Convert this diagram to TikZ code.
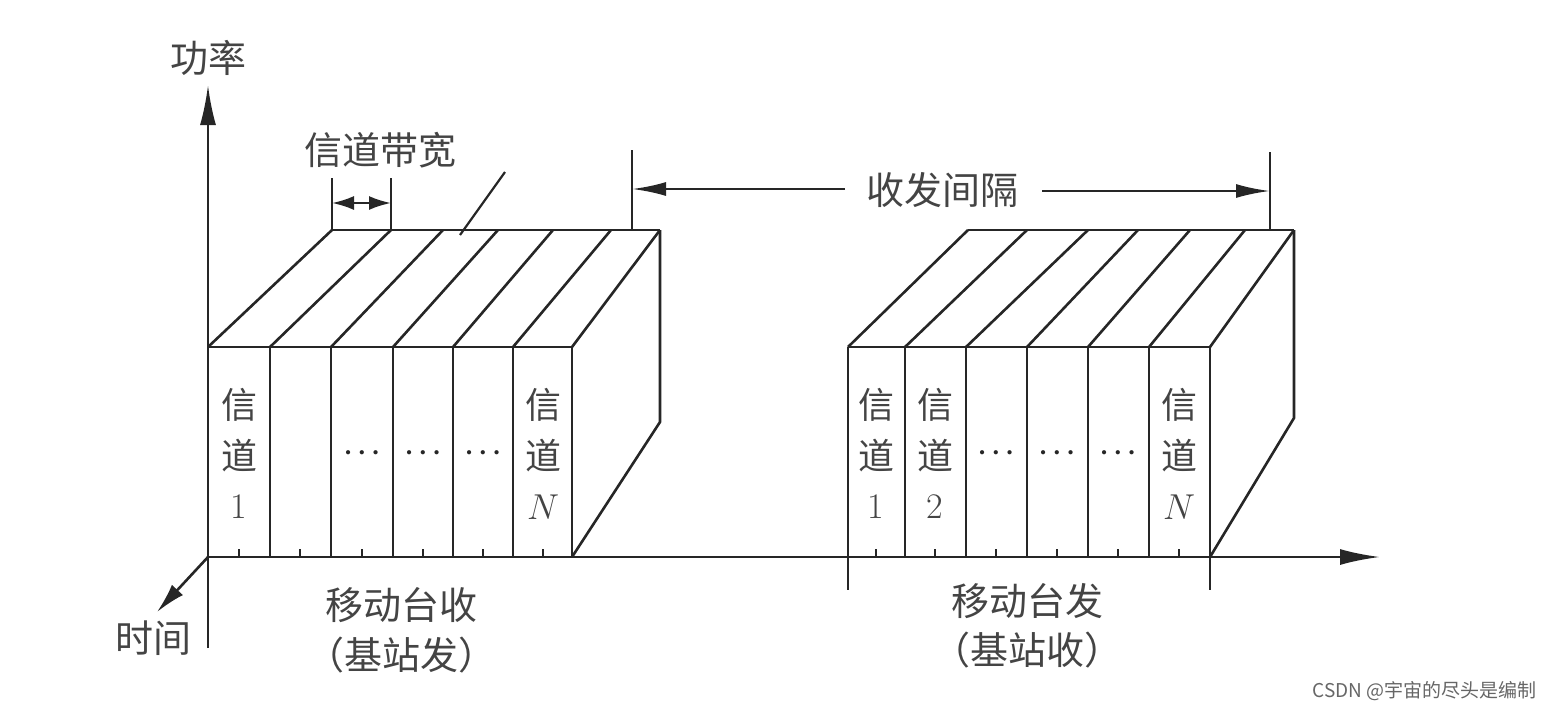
\documentclass[tikz,border=0pt]{standalone}
\usepackage{fix-cm}
\usepackage{fontspec}
\newfontfamily\cjk{Noto Sans CJK SC}
\usetikzlibrary{arrows.meta}
\definecolor{ln}{HTML}{262626}
\definecolor{tx}{HTML}{444444}
\tikzset{
  edge/.style={draw=ln, line width=2.6pt, line cap=butt, line join=miter},
  thin edge/.style={draw=ln, line width=2.2pt},
  axisarrow/.style={edge, -{Latex[length=40pt,width=16pt]}},
  gaparrow/.style={edge, -{Latex[length=34pt,width=14pt]}},
  bwarrow/.style={thin edge, {Latex[length=22pt,width=14pt]}-{Latex[length=22pt,width=14pt]}},
  label/.style={text=tx, font=\cjk\fontsize{38}{40}\selectfont, inner sep=0pt},
  chlabel/.style={text=tx, font=\cjk\fontsize{36}{38}\selectfont, inner sep=0pt},
  numlabel/.style={text=tx, font=\fontsize{36}{38}\selectfont, inner sep=0pt},
  dotlabel/.style={text=ln, font=\fontsize{27}{29}\selectfont\boldmath, inner sep=0pt},
  wm/.style={text=black!60, font=\cjk\fontsize{19}{21}\selectfont, inner sep=0pt, anchor=east},
}
\begin{document}
\begin{tikzpicture}[x=1pt,y=-1pt]
\useasboundingbox (0,0) rectangle (1552,710);
% ---------- axes ----------
\coordinate (O) at (208,557);
\coordinate (ybot) at (208,648);
\coordinate (ytop) at (208,85);
\coordinate (xend) at (1380,557);
\coordinate (tend) at (157,612);
\draw[edge] (ybot) -- (O);
\draw[axisarrow] (O) -- (ytop);
\draw[axisarrow] (O) -- (xend);
\draw[edge, -{Latex[length=30pt,width=15pt]}] (O) -- (tend);
\node[label] (pw) at (208,58) {功率};
\node[label] (tm) at (153,638) {时间};

% ---------- left block ----------
\foreach \i/\f/\b in {0/208/332,1/270/391,2/331/443,3/393/498,4/453/553,5/513/611,6/572/660}{
  \coordinate (Lf\i) at (\f,347);
  \coordinate (Lb\i) at (\f,557);
  \coordinate (Lk\i) at (\b,230);
}
\coordinate (Lrb) at (660,422);
\draw[edge] (Lf0) -- (Lf6);
\draw[edge] (Lk0) -- (Lk6);
\foreach \i in {0,...,6}{
  \draw[edge] (Lf\i) -- (Lb\i);
  \draw[edge] (Lf\i) -- (Lk\i);
}
\draw[edge] (Lk6) -- (Lrb) -- (Lb6);
\foreach \x in {239,300,362,423,483,543}{
  \coordinate (ltk\x) at (\x,549);
  \coordinate (ltb\x) at (\x,557);
  \draw[thin edge, line width=1.6pt] (ltk\x) -- (ltb\x);
}
% left channel labels
\node[chlabel] (l1a) at (239,405) {信};
\node[chlabel] (l1b) at (239,456) {道};
\node[numlabel] (l1c) at (239,507) {1};
\node[chlabel] (lNa) at (543,405) {信};
\node[chlabel] (lNb) at (543,456) {道};
\node[numlabel] (lNc) at (543,507) {$N$};
\node[dotlabel] (ld3) at (362,453) {$\cdots$};
\node[dotlabel] (ld4) at (423,453) {$\cdots$};
\node[dotlabel] (ld5) at (483,453) {$\cdots$};

% bandwidth marker
\coordinate (bw1t) at (332,178);
\coordinate (bw2t) at (391,178);
\coordinate (bw1a) at (332,203);
\coordinate (bw2a) at (391,203);
\draw[thin edge] (bw1t) -- (Lk0);
\draw[thin edge] (bw2t) -- (Lk1);
\draw[bwarrow] (bw1a) -- (bw2a);
\node[label] (bwlab) at (380,150) {信道带宽};
\coordinate (lead1) at (460,235);
\coordinate (lead2) at (505,172);
\draw[thin edge] (lead1) -- (lead2);

% ---------- right block ----------
\foreach \i/\f/\b in {0/848/968,1/905/1027,2/966/1088,3/1027/1138,4/1088/1190,5/1149/1245,6/1210/1294}{
  \coordinate (Rf\i) at (\f,347);
  \coordinate (Rb\i) at (\f,557);
  \coordinate (Rk\i) at (\b,230);
}
\coordinate (Rrb) at (1294,418);
\draw[edge] (Rf0) -- (Rf6);
\draw[edge] (Rk0) -- (Rk6);
\foreach \i in {0,...,6}{
  \draw[edge] (Rf\i) -- (Rb\i);
  \draw[edge] (Rf\i) -- (Rk\i);
}
\draw[edge] (Rk6) -- (Rrb) -- (Rb6);
\foreach \x in {876,935,996,1057,1118,1179}{
  \coordinate (rtk\x) at (\x,549);
  \coordinate (rtb\x) at (\x,557);
  \draw[thin edge, line width=1.6pt] (rtk\x) -- (rtb\x);
}
\coordinate (Rd0) at (848,590);
\coordinate (Rd6) at (1210,590);
\draw[edge] (Rb0) -- (Rd0);
\draw[edge] (Rb6) -- (Rd6);
% right channel labels
\node[chlabel] (r1a) at (876,405) {信};
\node[chlabel] (r1b) at (876,456) {道};
\node[numlabel] (r1c) at (876,507) {1};
\node[chlabel] (r2a) at (935,405) {信};
\node[chlabel] (r2b) at (935,456) {道};
\node[numlabel] (r2c) at (935,507) {2};
\node[chlabel] (rNa) at (1179,405) {信};
\node[chlabel] (rNb) at (1179,456) {道};
\node[numlabel] (rNc) at (1179,507) {$N$};
\node[dotlabel] (rd3) at (996,453) {$\cdots$};
\node[dotlabel] (rd4) at (1057,453) {$\cdots$};
\node[dotlabel] (rd5) at (1118,453) {$\cdots$};

% ---------- duplex spacing ----------
\coordinate (g1t) at (632,150);
\coordinate (g1b) at (632,230);
\coordinate (g2t) at (1270,152);
\coordinate (g2b) at (1270,230);
\draw[thin edge] (g1t) -- (g1b);
\draw[thin edge] (g2t) -- (g2b);
\node[label] (gap) at (942,190) {收发间隔};
\coordinate (g1a) at (632,189);
\coordinate (g2a) at (1270,191);
\coordinate (gs1) at (845,189);
\coordinate (gs2) at (1042,191);
\draw[gaparrow] (gs1) -- (g1a);
\draw[gaparrow] (gs2) -- (g2a);

% ---------- bottom labels ----------
\node[label] (lb1) at (401,605) {移动台收};
\node[label] (lb2) at (401,655) {（基站发）};
\node[label] (rb1) at (1027,601) {移动台发};
\node[label] (rb2) at (1027,650) {（基站收）};

% watermark
\node[wm] (csdn) at (1537,691) {CSDN @宇宙的尽头是编制};
\end{tikzpicture}
\end{document}
